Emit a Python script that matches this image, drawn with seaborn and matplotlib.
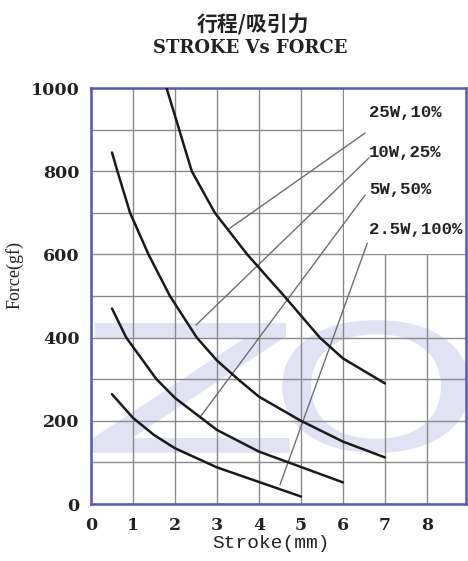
import pandas as pd
import seaborn as sns
import matplotlib.pyplot as plt
from matplotlib.patches import Rectangle, PathPatch
from matplotlib.textpath import TextPath
from matplotlib.font_manager import FontProperties
from matplotlib.transforms import Affine2D

# curve data (stroke mm -> force gf)
x_25w = [1.8, 2.1, 2.4, 2.95, 3.72, 4.6, 5.45, 6.0, 7.0]
y_25w = [1000, 900, 800, 700, 600, 500, 400, 350, 290]
x_10w = [0.5, 0.63, 0.93, 1.37, 1.88, 2.52, 3.0, 3.5, 4.0, 5.0, 6.0, 7.0]
y_10w = [845, 800, 700, 600, 500, 400, 345, 300, 258, 200, 150, 112]
x_5w = [0.5, 0.84, 1.56, 2.0, 3.0, 4.0, 5.0, 6.0]
y_5w = [470, 400, 300, 255, 178, 126, 89, 52]
x_25 = [0.5, 1.0, 1.5, 2.0, 3.0, 4.0, 5.0]
y_25 = [264, 207, 166, 134, 88, 53, 18]

labels = ["25W,10%", "10W,25%", "5W,50%", "2.5W,100%"]
label_x = [6.62, 6.62, 6.62, 6.62]
label_y = [940, 846, 755, 659]
# leader line ends: (on curve) -> (near label)
lead_x0 = [3.28, 2.5, 2.6, 4.5]
lead_y0 = [661, 430, 209, 46]
lead_x1 = [6.53, 6.62, 6.53, 6.58]
lead_y1 = [892, 832, 743, 627]

xticks = [0, 1, 2, 3, 4, 5, 6, 7, 8]
yticks = [0, 200, 400, 600, 800, 1000]

df = pd.concat([
    pd.DataFrame({"stroke": x_25w, "force": y_25w, "s": labels[0]}),
    pd.DataFrame({"stroke": x_10w, "force": y_10w, "s": labels[1]}),
    pd.DataFrame({"stroke": x_5w, "force": y_5w, "s": labels[2]}),
    pd.DataFrame({"stroke": x_25, "force": y_25, "s": labels[3]}),
])

sns.set_style("white")
fig = plt.figure(figsize=(4.68, 5.61), dpi=100)
ax = fig.add_axes([0.1944, 0.1016, 0.8013, 0.7415])
ax.set_axisbelow(True)

# faded "ZO" watermark
wm_color = "#e1e3f5"
for ch, box in [("Z", (0.0, 0.123, 0.53, 0.435)), ("O", (0.51, 0.123, 1.01, 0.442))]:
    tp = TextPath((0, 0), ch, size=1, prop=FontProperties(family="DejaVu Sans"))
    ext = tp.get_extents()
    tr = Affine2D().translate(-ext.x0, -ext.y0).scale(
        (box[2] - box[0]) / ext.width, (box[3] - box[1]) / ext.height
    ).translate(box[0], box[1])
    ax.add_patch(PathPatch(tr.transform_path(tp), facecolor=wm_color,
                           edgecolor="none", transform=ax.transAxes, zorder=0.2))

ax.set_xticks(xticks)
ax.set_yticks(yticks)
ax.set_xticks(range(0, 10), minor=True)
ax.set_yticks(range(0, 1001, 100), minor=True)
ax.grid(True, which="both", color="#8a8a8a", linewidth=1.0)
ax.add_patch(Rectangle((6.03, 600), 4, 400, facecolor="white", edgecolor="none", zorder=0.8))

sns.lineplot(data=df, x="stroke", y="force", units="s", estimator=None,
             color="#1a1a1a", linewidth=1.8, sort=False, ax=ax, zorder=3)

for i in range(len(labels)):
    ax.plot([lead_x0[i], lead_x1[i]], [lead_y0[i], lead_y1[i]],
            color="#6e6e6e", linewidth=1.0, zorder=2)
    ax.text(label_x[i], label_y[i], labels[i], fontsize=12.5, family="Liberation Mono",
            fontweight="bold", color="#222222", va="center", ha="left", zorder=4)

ax.set_xlim(0, 8.93)
ax.set_ylim(0, 1000)
for sp in ax.spines.values():
    sp.set_color("#5a55b8")
    sp.set_linewidth(1.8)
ax.tick_params(length=0, which="both")
ax.tick_params(axis="x", pad=9)
ax.tick_params(axis="y", pad=8)
for t in ax.get_xticklabels() + ax.get_yticklabels():
    t.set_family("DejaVu Serif")
    t.set_fontweight("bold")
    t.set_fontsize(12.5)
    t.set_color("#222222")

ax.set_xlabel("Stroke(mm)", family="Liberation Mono", fontsize=14, color="#222222", labelpad=2)
ax.xaxis.set_label_coords(0.48, -0.075)
ax.set_ylabel("Force(gf)", family="Liberation Serif", fontsize=13, color="#222222")
ax.yaxis.set_label_coords(-0.18, 0.55)

fig.text(0.54, 0.955, "行程/吸引力", ha="center", va="center", fontsize=15,
         family=["Noto Sans CJK SC", "DejaVu Sans"], fontweight="bold", color="#222222")
fig.text(0.535, 0.914, "STROKE Vs FORCE", ha="center", va="center", fontsize=13,
         family="DejaVu Serif", fontweight="bold", color="#222222")

fig.savefig("out.png", dpi=100)
